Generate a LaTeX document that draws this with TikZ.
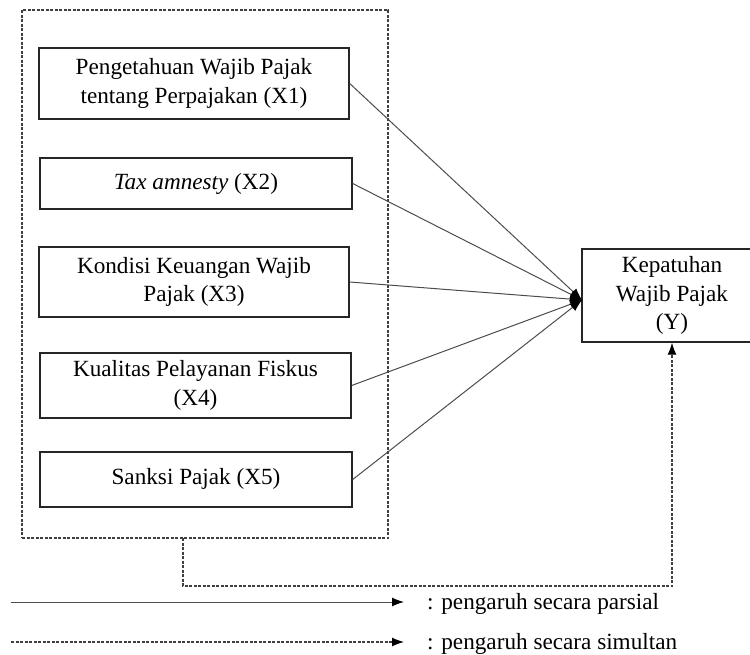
\documentclass[tikz,border=0pt]{standalone}
\usepackage{fontspec}
\setmainfont{Liberation Serif}
\usetikzlibrary{arrows.meta}

\begin{document}
\begin{tikzpicture}[x=1pt,y=-1pt,
    every node/.style={font=\fontsize{23.2}{28.5}\selectfont},
    var/.style={draw=black!85,line width=1.4pt,align=center,inner sep=0pt},
    link/.style={draw=black!70,line width=1pt,-{Latex[length=12pt,width=9pt,black]}},
    sim/.style={draw=black!75,line width=1.1pt,dash pattern=on 3pt off 1.5pt}]

    \useasboundingbox (0,0) rectangle (750,654);

    \node[sim,minimum width=366pt,minimum height=528pt] (grp) at (205, 274)    {};
    \node[var,minimum width=310pt,minimum height=71pt]  (x1)  at (194, 83.5)   {Pengetahuan Wajib Pajak\\tentang Perpajakan (X1)};
    \node[var,minimum width=312pt,minimum height=51pt]  (x2)  at (196, 183.5)  {\raisebox{3pt}{\textit{Tax amnesty} (X2)}};
    \node[var,minimum width=310pt,minimum height=70pt]  (x3)  at (194, 282)    {Kondisi Keuangan Wajib\\Pajak (X3)};
    \node[var,minimum width=311pt,minimum height=65pt]  (x4)  at (195.5, 385.5) {Kualitas Pelayanan Fiskus\\(X4)};
    \node[var,minimum width=312pt,minimum height=55pt]  (x5)  at (196, 479.5)  {\raisebox{7pt}{Sanksi Pajak (X5)}};
    \node[var,minimum width=180pt,minimum height=93pt]  (y)   at (672, 295.5)  {Kepatuhan\\Wajib Pajak\\(Y)};

    \coordinate (yin) at (582, 300);
    \coordinate (g0)  at (183, 538);

    \draw (x1.east) edge[link]  (yin);
    \draw (x2.east) edge[link]  (yin);
    \draw (x3.east) edge[link]  (yin);
    \draw (x4.east) edge[link]  (yin);
    \draw (x5.east) edge[link]  (yin);
    \draw[sim,-{Latex[length=12pt,width=9pt,black]}] (g0) -- ++(0, 48) -| (y.south);

    % keterangan
    \coordinate (p0) at (11, 602);
    \coordinate (p1) at (404, 602);
    \coordinate (s0) at (11, 642);
    \coordinate (s1) at (404, 642);
    \node[anchor=west,inner sep=0pt] (lp) at (427, 604) {: pengaruh secara parsial};
    \node[anchor=west,inner sep=0pt] (ls) at (427, 644) {: pengaruh secara simultan};

    \draw (p0) edge[link]  (p1);
    \draw[sim,-{Latex[length=12pt,width=9pt,black]}] (s0) -- (s1);
  \end{tikzpicture}
\end{document}
